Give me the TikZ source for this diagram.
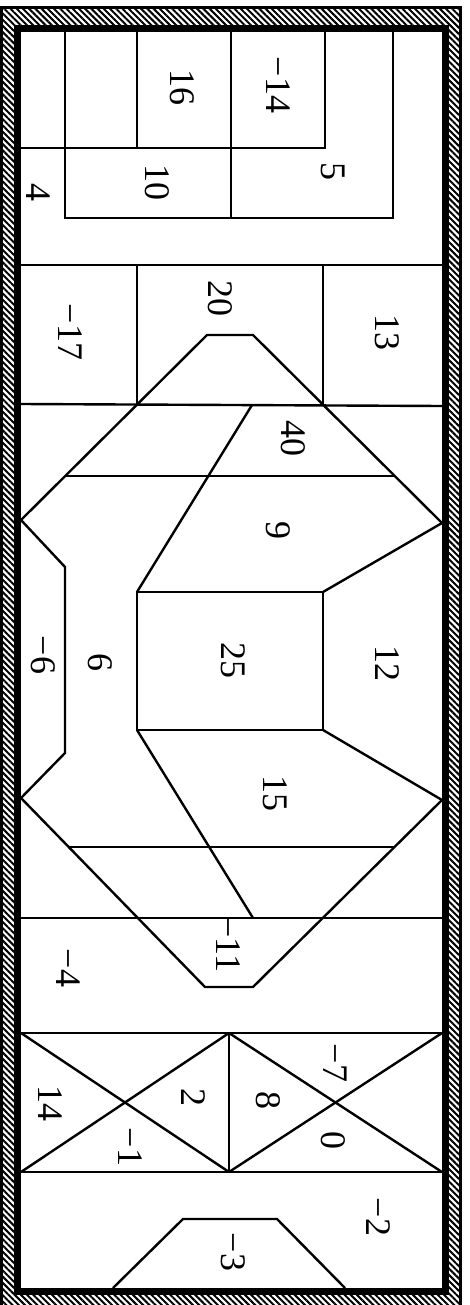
\documentclass[tikz,border=0pt]{standalone}
\usepackage{fontspec}
\setmainfont{Liberation Serif}
\usetikzlibrary{patterns.meta}
\tikzset{
  % hatched wall round the board
  wall/.style={draw=none, pattern={Lines[angle=-45, distance=4.4pt, line width=2pt]}},
  % the two black frame lines
  rim/.style={draw=black, line width=2.5pt},
  edge/.style={draw=black, line width=7pt},
  % cuts between the pieces
  cut/.style={draw=black, line width=2.4pt, line join=miter},
  % numbers, turned a quarter round
  num/.style={rotate=-90, font=\fontsize{36}{36}\selectfont, inner sep=0pt},
}

\begin{document}
\begin{tikzpicture}[x=1pt, y=-1pt]
  \useasboundingbox (0,0) rectangle (469,1305);

  % --- Frame -------------------------------------------------------------
  \fill[wall, even odd rule] (2,8) rectangle (460,1312) (17,28.5) rectangle (445,1291.5);
  \draw[rim] (1.5,1312) -- (1.5,7.5) -- (460.5,7.5) -- (460.5,1312);
  \draw[edge] (17,28.5) rectangle (445,1291.5);

  % --- Corner vertices of the big octagon ----------------------------------
  \coordinate (oTL) at (207,335);
  \coordinate (oTR) at (253,335);
  \coordinate (oL1) at (21,520);
  \coordinate (oR1) at (442,523);
  \coordinate (oL2) at (21,798);
  \coordinate (oR2) at (442,800);
  \coordinate (oBL) at (205,987);
  \coordinate (oBR) at (253,987);

  % --- Top block ------------------------------------------------------------
  \draw[cut] (65,32) -- (65,218) -- (393,218) -- (393,32);
  \draw[cut] (21,148) -- (325,148) -- (325,32);
  \draw[cut] (137,32) -- (137,148);
  \draw[cut] (231,32) -- (231,218);
  \draw[cut] (21,265) -- (442,265);
  \draw[cut] (137,265) -- (137,405);
  \draw[cut] (323,265) -- (323,405);
  \draw[cut] (21,404) -- (442,406);

  % --- Octagon and what lies in it -------------------------------------------
  \draw[cut] (oL1) -- (oTL) -- (oTR) -- (oR1);
  \draw[cut] (oL1) -- (65,567) -- (65,753) -- (oL2);
  \draw[cut] (oL2) -- (oBL) -- (oBR) -- (oR2);
  \draw[cut] (65,476) -- (395,476);
  \draw[cut] (69,847) -- (394,847);
  \draw[cut] (252,405) -- (137,592);
  \draw[cut] (137,592) rectangle (323,730);
  \draw[cut] (323,592) -- (oR1);
  \draw[cut] (323,730) -- (oR2);
  \draw[cut] (137,730) -- (253,918);
  \draw[cut] (21,918) -- (442,918);

  % --- Crossed boxes and bottom ----------------------------------------------
  \draw[cut] (21,1033) -- (442,1033);
  \draw[cut] (21,1172) -- (442,1172);
  \draw[cut] (229,1033) -- (229,1172);
  \draw[cut] (21,1033) -- (229,1172);
  \draw[cut] (229,1033) -- (21,1172);
  \draw[cut] (229,1033) -- (442,1172);
  \draw[cut] (442,1033) -- (229,1172);
  \draw[cut] (113,1288) -- (183,1219) -- (277,1219) -- (345,1288);

  % --- Numbers ------------------------------------------------------------------
  \node[num] (n16)  at (182,88)   {16};
  \node[num] (nm14) at (278,85)   {−14};
  \node[num] (n10)  at (157,183)  {10};
  \node[num] (n5)   at (333,172)  {5};
  \node[num] (n4)   at (38,193)   {4};
  \node[num] (n20)  at (220,298)  {20};
  \node[num] (nm17) at (70,332)   {−17};
  \node[num] (n13)  at (387,333)  {13};
  \node[num] (n40)  at (293,438)  {40};
  \node[num] (n9)   at (278,530)  {9};
  \node[num] (nm6)  at (43,655)   {−6};
  \node[num] (n6)   at (100,662)  {6};
  \node[num] (n25)  at (233,660)  {25};
  \node[num] (n12)  at (387,663)  {12};
  \node[num] (n15)  at (275,793)  {15};
  \node[num] (nm11) at (228,945)  {−11};
  \node[num] (nm4)  at (68,968)   {−4};
  \node[num] (n14)  at (50,1103)  {14};
  \node[num] (n2)   at (193,1097) {2};
  \node[num] (nm7)  at (335,1063) {−7};
  \node[num] (n8)   at (268,1100) {8};
  \node[num] (nm1)  at (130,1147) {−1};
  \node[num] (n0)   at (333,1140) {0};
  \node[num] (nm2)  at (378,1217) {−2};
  \node[num] (nm3)  at (233,1252) {−3};

\end{tikzpicture}
\end{document}
